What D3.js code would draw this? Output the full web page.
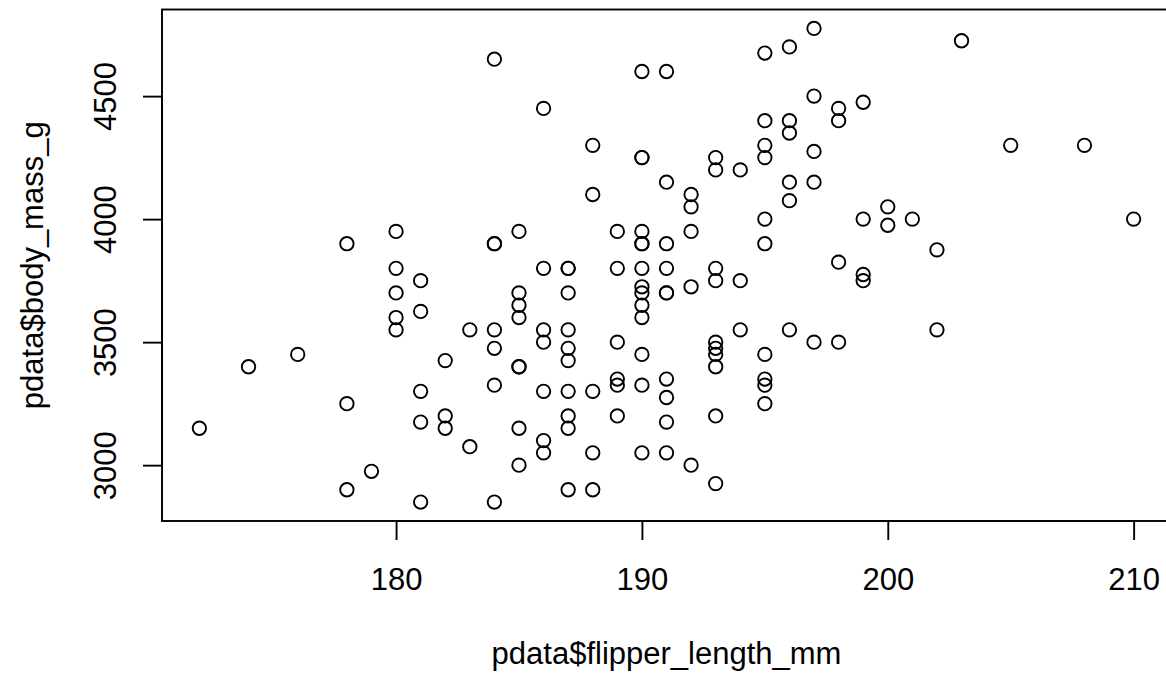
<!DOCTYPE html>
<html>
<head>
<meta charset="utf-8">
<script src="https://cdn.jsdelivr.net/npm/d3@7"></script>
<style>
  html, body { margin: 0; padding: 0; background: #fff; }
  svg text { font-family: "Liberation Sans", Arial, Helvetica, sans-serif; fill: #000; }
</style>
</head>
<body>
<svg id="chart" width="1166" height="675"></svg>
<script>
// flipper length (mm) and body mass (g), one entry per penguin
var flipper = [
	184, 186, 190, 191, 188, 190, 190, 188, 191, 192, 192, 193, 193, 194, 195, 195, 195, 195,
	196, 196, 196, 196, 196, 197, 197, 197, 197, 203, 198, 198, 199, 205, 208, 200,
	174, 176, 178, 180, 180, 180, 180, 180, 181, 181, 181, 182, 183, 184, 184, 184, 184, 184,
	185, 189, 190, 190, 190, 191, 192, 195, 195, 186, 187, 187, 189, 190, 191, 193, 193, 194,
	185, 185, 185, 187, 190, 190, 190, 190, 191, 191, 192, 186, 186, 187, 187, 187, 189, 190,
	194, 196, 197, 193, 193, 193, 193, 195, 185, 185, 186, 187, 188, 189, 189, 190, 191, 191,
	195, 195, 195,
	199, 200, 201, 202, 198, 199, 199, 210, 202, 198,
	172, 178, 178, 179, 181, 181, 182, 182, 183, 184,
	185, 185, 186, 186, 187, 187, 187, 188, 188, 189, 190, 191, 191, 192, 193, 193
];
var bodyMass = [
	4650, 4450, 4600, 4600, 4300, 4250, 4250, 4100, 4150, 4100, 4050, 4250, 4200, 4200, 4675, 4400, 4300, 4250,
	4700, 4400, 4350, 4150, 4075, 4775, 4500, 4275, 4150, 4725, 4450, 4400, 4475, 4300, 4300, 4050,
	3400, 3450, 3900, 3950, 3800, 3700, 3600, 3550, 3750, 3625, 3300, 3425, 3550, 3900, 3900, 3550, 3475, 3325,
	3950, 3950, 3950, 3900, 3900, 3900, 3950, 4000, 3900, 3800, 3800, 3800, 3800, 3800, 3800, 3800, 3750, 3750,
	3700, 3650, 3600, 3700, 3725, 3700, 3650, 3600, 3700, 3700, 3725, 3550, 3500, 3550, 3475, 3425, 3500, 3450,
	3550, 3550, 3500, 3500, 3475, 3450, 3400, 3450, 3400, 3400, 3300, 3300, 3300, 3350, 3325, 3325, 3350, 3275,
	3350, 3325, 3250,
	4000, 3975, 4000, 3875, 3825, 3775, 3750, 4000, 3550, 3500,
	3150, 3250, 2900, 2975, 3175, 2850, 3200, 3150, 3075, 2850,
	3150, 3000, 3100, 3050, 3200, 3150, 2900, 3050, 2900, 3200, 3050, 3175, 3050, 3000, 3200, 2925
];
var xTicks = [180, 190, 200, 210];
var yTicks = [3000, 3500, 4000, 4500];
var xTitle = 'pdata$flipper_length_mm';
var yTitle = 'pdata$body_mass_g';

var plotLeft = 162,
	plotRight = 1171,
	plotTop = 9.5,
	plotBottom = 521,
	fontSize = 31,
	tickLen = 19;

// R style axis range: data range padded by 4% on both sides
function padded(values) {
	var ext = d3.extent(values);
	var pad = (ext[1] - ext[0]) * 0.04;
	return [ext[0] - pad, ext[1] + pad];
}

var x = d3.scaleLinear().domain(padded(flipper)).range([plotLeft, plotRight]);
var y = d3.scaleLinear().domain(padded(bodyMass)).range([plotBottom, plotTop]);

var svg = d3.select('#chart');

// box
svg.append('rect')
	.attr('x', plotLeft)
	.attr('y', plotTop)
	.attr('width', plotRight - plotLeft)
	.attr('height', plotBottom - plotTop)
	.attr('fill', 'none')
	.attr('stroke', '#000')
	.attr('stroke-width', 1.9);

// x axis
var xAxis = d3.axisBottom(x).tickValues(xTicks).tickSize(tickLen).tickPadding(0).tickFormat(d3.format('d'));
var gx = svg.append('g').attr('transform', 'translate(0,' + plotBottom + ')').call(xAxis);
gx.select('.domain')
	.attr('d', 'M' + x(xTicks[0]) + ',0H' + x(xTicks[xTicks.length - 1]))
	.attr('stroke-width', 1.9);
gx.selectAll('.tick line').attr('stroke-width', 1.9);
gx.selectAll('.tick text')
	.attr('y', 69)
	.attr('dy', null)
	.attr('font-size', fontSize)
	.attr('font-family', '"Liberation Sans", Arial, sans-serif')
	.attr('fill', '#000');

// y axis, labels parallel to the axis
var yAxis = d3.axisLeft(y).tickValues(yTicks).tickSize(tickLen).tickPadding(0).tickFormat(d3.format('d'));
var gy = svg.append('g').attr('transform', 'translate(' + plotLeft + ',0)').call(yAxis);
gy.select('.domain')
	.attr('d', 'M0,' + y(yTicks[0]) + 'V' + y(yTicks[yTicks.length - 1]))
	.attr('stroke-width', 1.9);
gy.selectAll('.tick line').attr('stroke-width', 1.9);
gy.selectAll('.tick text')
	.attr('x', null)
	.attr('dy', null)
	.attr('transform', 'translate(-46,0) rotate(-90)')
	.attr('text-anchor', 'middle')
	.attr('font-size', fontSize)
	.attr('font-family', '"Liberation Sans", Arial, sans-serif')
	.attr('fill', '#000');

// points, pch = 1
svg.append('g')
	.selectAll('circle')
	.data(flipper)
	.enter()
	.append('circle')
	.attr('cx', function(d) { return x(d); })
	.attr('cy', function(d, i) { return y(bodyMass[i]); })
	.attr('r', 6.7)
	.attr('fill', 'none')
	.attr('stroke', '#000')
	.attr('stroke-width', 1.9);

// titles
svg.append('text')
	.attr('x', (plotLeft + plotRight) / 2)
	.attr('y', 664)
	.attr('text-anchor', 'middle')
	.attr('font-size', fontSize)
	.text(xTitle);

svg.append('text')
	.attr('transform', 'translate(43,' + ((plotTop + plotBottom) / 2) + ') rotate(-90)')
	.attr('text-anchor', 'middle')
	.attr('font-size', fontSize)
	.text(yTitle);
</script>
</body>
</html>
